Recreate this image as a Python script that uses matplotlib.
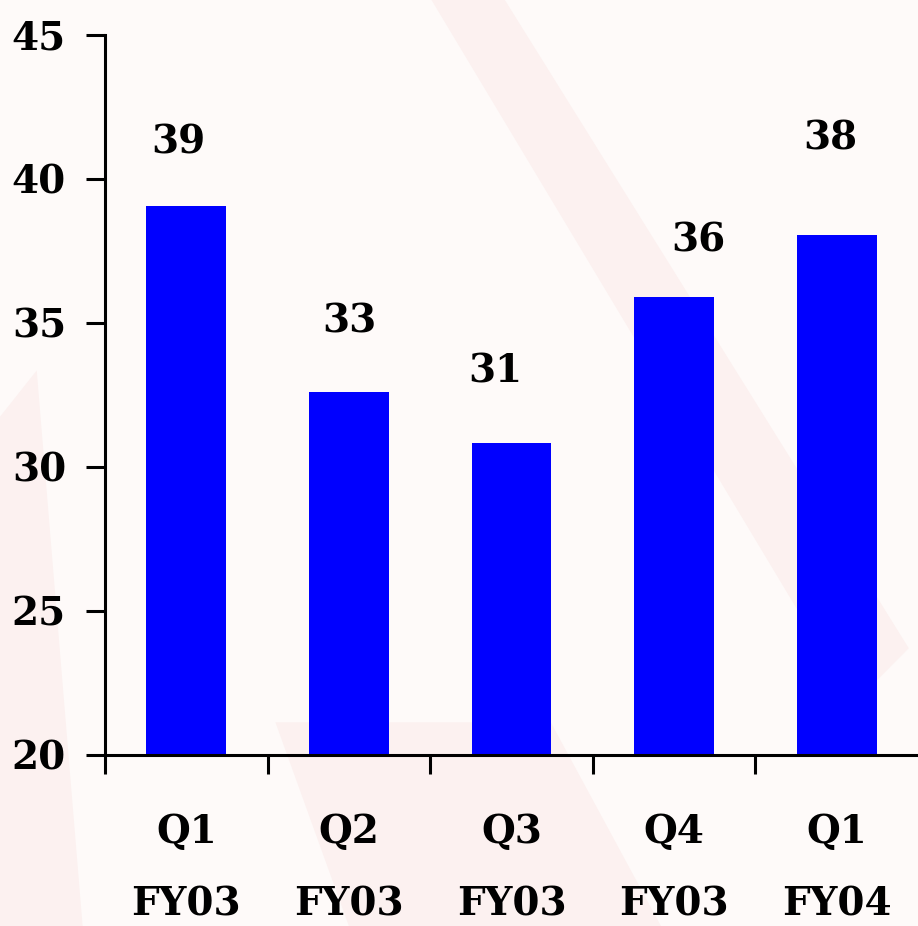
import matplotlib.pyplot as plt
from matplotlib.patches import Polygon

quarters = ['Q1\nFY03', 'Q2\nFY03', 'Q3\nFY03', 'Q4\nFY03', 'Q1\nFY04']
values = [39.05, 32.6, 30.85, 35.9, 38.05]
value_labels = ['39', '33', '31', '36', '38']

# label offsets (as drawn in the original slide)
label_dx = [-0.05, 0.0, -0.1, 0.15, -0.04]
label_dy = [2.2, 2.45, 2.45, 1.95, 3.35]

font = {'family': 'DejaVu Serif', 'weight': 'bold'}

fig = plt.figure(figsize=(9.18, 9.26), dpi=100)
fig.patch.set_facecolor('#fefaf9')

# faint watermark in the background
bg = fig.add_axes([0, 0, 1, 1], zorder=-10)
bg.set_xlim(0, 1)
bg.set_ylim(0, 1)
bg.axis('off')
wm = '#fcf1f0'
bg.add_patch(Polygon([(0.47, 1.0), (0.55, 1.0), (0.99, 0.3), (0.93, 0.24)], closed=True, fc=wm, ec='none'))
bg.add_patch(Polygon([(0.0, 0.55), (0.04, 0.6), (0.09, 0.0), (0.0, 0.0)], closed=True, fc=wm, ec='none'))
bg.add_patch(Polygon([(0.3, 0.22), (0.6, 0.22), (0.72, 0.0), (0.38, 0.0)], closed=True, fc=wm, ec='none'))

ax = fig.add_axes([105 / 918, 1 - 755 / 926, 1 - 105 / 918, (755 - 35) / 926], zorder=1)
ax.set_facecolor('none')

x = range(len(quarters))
ax.bar(x, values, width=0.49, color='#0000ff', zorder=2)

for i, (v, t) in enumerate(zip(values, value_labels)):
    ax.text(i + label_dx[i], v + label_dy[i], t, ha='center', va='center',
            fontsize=28, **font)

ax.set_xlim(-0.5, 4.5)
ax.set_ylim(20, 45)
ax.set_yticks([20, 25, 30, 35, 40, 45])

ax.set_xticks(list(x))
ax.set_xticklabels(quarters, fontsize=28, linespacing=2.15, **font)
ax.set_xticks([-0.5, 0.5, 1.5, 2.5, 3.5], minor=True)
ax.tick_params(axis='x', which='major', length=0, pad=42)
ax.tick_params(axis='x', which='minor', length=14, width=2.2, direction='out')
ax.tick_params(axis='y', length=14, width=2.2, direction='out', pad=14)
for lbl in ax.get_yticklabels():
    lbl.set_fontsize(28)
    lbl.set_fontfamily('DejaVu Serif')
    lbl.set_fontweight('bold')

for s in ['top', 'right']:
    ax.spines[s].set_visible(False)
for s in ['left', 'bottom']:
    ax.spines[s].set_linewidth(2.2)

plt.savefig('out.png', dpi=100, facecolor=fig.get_facecolor())
